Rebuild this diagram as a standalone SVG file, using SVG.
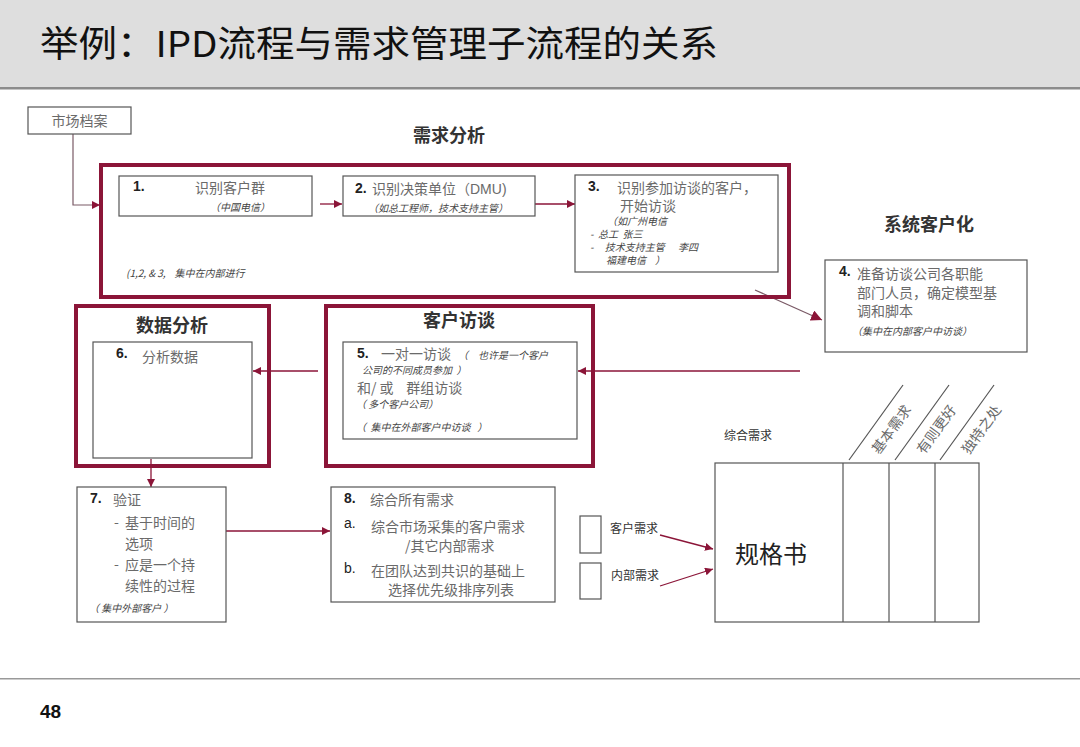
<svg xmlns="http://www.w3.org/2000/svg" width="1080" height="747" viewBox="0 0 1080 747" xml:space="preserve">
<defs>
<marker id="ah" viewBox="0 0 10 10" refX="10" refY="5" markerWidth="8" markerHeight="8" markerUnits="userSpaceOnUse" orient="auto">
<path d="M0,0 L10,5 L0,10 z" fill="#8b1538"/>
</marker>
<marker id="ahb" viewBox="0 0 10 10" refX="10" refY="5" markerWidth="11" markerHeight="11" markerUnits="userSpaceOnUse" orient="auto">
<path d="M0,0 L10,5 L0,10 z" fill="#8b1538"/>
</marker>
</defs>
<style>
text{font-family:"Noto Sans CJK SC","Liberation Sans",sans-serif;white-space:pre;}
.box{fill:#fff;stroke:#555;stroke-width:1.2;}
.red{fill:none;stroke:#8b1538;stroke-width:4;}
.num{font-family:"Liberation Sans","Noto Sans CJK SC",sans-serif;font-weight:bold;font-size:14px;fill:#222;}
.t{font-size:14px;fill:#6a6a6a;}
.it{font-size:10px;font-style:italic;fill:#444;}
.hd{font-size:18px;font-weight:bold;fill:#333;}
.ln{fill:none;stroke:#8b1538;stroke-width:1.3;}
.lg{fill:none;stroke:#7a5a66;stroke-width:1.2;}
.sm{font-size:12px;fill:#333;}
.dv{stroke:#555;stroke-width:1.2;}
</style>
<rect x="0" y="0" width="1080" height="88" fill="#dedede"/>
<rect x="0" y="87" width="1080" height="2.5" fill="#8c8c8c"/>
<text x="40" y="57" font-size="36" fill="#111" textLength="678" lengthAdjust="spacingAndGlyphs">举例：IPD流程与需求管理子流程的关系</text>
<rect x="0" y="678" width="1080" height="1.5" fill="#999"/>
<text x="40" y="718" font-weight="bold" font-size="19" fill="#111" style="font-family:'Liberation Sans',sans-serif">48</text>

<g id="connectors">
<path class="lg" d="M73,134 L73,205 L100,205" marker-end="url(#ah)"/>
<path class="ln" d="M320,204 L342,204" marker-end="url(#ah)"/>
<path class="ln" d="M535,204 L575,204" marker-end="url(#ah)"/>
<path class="lg" d="M755,290 L822,320" marker-end="url(#ahb)"/>
<path class="ln" d="M800,371 L578,371" marker-end="url(#ah)"/>
<path class="ln" d="M318,371 L253,371" marker-end="url(#ah)"/>
<path class="ln" d="M151,459 L151,487" marker-end="url(#ah)"/>
<path class="ln" d="M226,531 L330,531" marker-end="url(#ah)"/>
<path class="ln" d="M660,535 L713,549" marker-end="url(#ah)"/>
<path class="ln" d="M660,586 L713,569" marker-end="url(#ah)"/>
</g>

<g id="market">
<rect class="box" x="28" y="107" width="103" height="27"/>
<text x="79.5" y="126" class="t" text-anchor="middle">市场档案</text>
</g>

<g id="demand-analysis">
<rect class="red" x="101" y="165" width="688" height="132"/>
<text x="449" y="142" class="hd" text-anchor="middle">需求分析</text>
<text x="126" y="277" class="it">(1,2, &amp; 3,    集中在内部进行</text>
</g>

<g id="step1">
<rect class="box" x="119" y="176" width="193" height="40"/>
<text x="133" y="191" class="num">1.</text>
<text x="230" y="193" class="t" font-size="15" text-anchor="middle">识别客户群</text>
<text x="240" y="211" class="it" text-anchor="middle">（中国电信）</text>
</g>

<g id="step2">
<rect class="box" x="343" y="176" width="192" height="40"/>
<text x="355" y="193" class="num">2.</text>
<text x="372" y="194" class="t" font-size="15">识别决策单位（<tspan style="font-family:'Liberation Sans',sans-serif">DMU)</tspan></text>
<text x="368" y="212" class="it">（如总工程师，技术支持主管）</text>
</g>

<g id="step3">
<rect class="box" x="575" y="175" width="203" height="97"/>
<text x="588" y="191" class="num">3.</text>
<text x="617" y="193" class="t" font-size="15">识别参加访谈的客户，</text>
<text x="620" y="211" class="t" font-size="15">开始访谈</text>
<text x="607" y="225" class="it">（如广州电信</text>
<text x="590" y="238" class="it">-  总工  张三</text>
<text x="590" y="251" class="it">-     技术支持主管      李四</text>
<text x="606" y="264" class="it">福建电信    ）</text>
</g>

<g id="step4">
<text x="929" y="231" class="hd" text-anchor="middle">系统客户化</text>
<rect class="box" x="825" y="260" width="202" height="92"/>
<text x="839" y="276" class="num">4.</text>
<text x="857" y="279" class="t">准备访谈公司各职能</text>
<text x="857" y="298" class="t">部门人员，确定模型基</text>
<text x="857" y="316" class="t">调和脚本</text>
<text x="852" y="335" class="it">（集中在内部客户中访谈）</text>
</g>

<g id="customer-interview">
<rect class="red" x="326" y="306" width="267" height="160"/>
<text x="459" y="327" class="hd" font-size="20" text-anchor="middle">客户访谈</text>
<rect class="box" x="343" y="342" width="234" height="97"/>
<text x="357" y="358" class="num">5.</text>
<text x="381" y="359" class="t" font-size="15">一对一访谈</text>
<text x="458" y="359" class="it" font-size="12">（</text>
<text x="478" y="359" class="it">也许是一个客户</text>
<text x="362" y="374" class="it">公司的不同成员参加  ）</text>
<text x="357" y="393" class="t" font-size="15">和/ 或    群组访谈</text>
<text x="356" y="408" class="it" font-size="11">（ 多个客户公司）</text>
<text x="356" y="431" class="it">（  集中在外部客户中访谈   ）</text>
</g>

<g id="data-analysis">
<rect class="red" x="76" y="306" width="193" height="160"/>
<text x="172" y="332" class="hd" text-anchor="middle">数据分析</text>
<rect class="box" x="93" y="342" width="159" height="116"/>
<text x="116" y="358" class="num">6.</text>
<text x="142" y="362" class="t">分析数据</text>
</g>

<g id="step7">
<rect class="box" x="77" y="487" width="149" height="135"/>
<text x="90" y="503" class="num">7.</text>
<text x="113" y="505" class="t">验证</text>
<text x="114" y="527" class="t">-</text>
<text x="125" y="528" class="t">基于时间的</text>
<text x="125" y="549" class="t">选项</text>
<text x="114" y="569" class="t">-</text>
<text x="125" y="570" class="t">应是一个持</text>
<text x="125" y="591" class="t">续性的过程</text>
<text x="89" y="612" class="it">（ 集中外部客户 ）</text>
</g>

<g id="step8">
<rect class="box" x="331" y="487" width="224" height="115"/>
<text x="344" y="503" class="num">8.</text>
<text x="370" y="505" class="t">综合所有需求</text>
<text x="344" y="528" class="num" style="font-weight:normal">a.</text>
<text x="371" y="532" class="t">综合市场采集的客户需求</text>
<text x="405" y="551" class="t">/其它内部需求</text>
<text x="344" y="573" class="num" style="font-weight:normal">b.</text>
<text x="371" y="576" class="t">在团队达到共识的基础上</text>
<text x="388" y="595" class="t">选择优先级排序列表</text>
</g>

<g id="inputs">
<rect class="box" x="580" y="516" width="21" height="37"/>
<text x="610" y="533" class="sm">客户需求</text>
<rect class="box" x="580" y="563" width="21" height="36"/>
<text x="611" y="580" class="sm">内部需求</text>
</g>

<g id="spec">
<text x="724" y="440" class="sm" font-size="13">综合需求</text>
<rect class="box" x="715" y="463" width="264" height="159"/>
<line class="dv" x1="843" y1="463" x2="843" y2="622"/>
<line class="dv" x1="889" y1="463" x2="889" y2="622"/>
<line class="dv" x1="935" y1="463" x2="935" y2="622"/>
<line class="dv" x1="849" y1="460" x2="903" y2="385"/>
<line class="dv" x1="895" y1="460" x2="949" y2="385"/>
<line class="dv" x1="940" y1="460" x2="994" y2="385"/>
<text x="879" y="455" class="t" font-size="15" transform="rotate(-54 879 455)">基本需求</text>
<text x="924" y="455" class="t" font-size="15" transform="rotate(-54 924 455)">有则更好</text>
<text x="969" y="455" class="t" font-size="15" transform="rotate(-54 969 455)">独特之处</text>
<text x="735" y="563" font-size="24" fill="#222">规格书</text>
</g>
</svg>
